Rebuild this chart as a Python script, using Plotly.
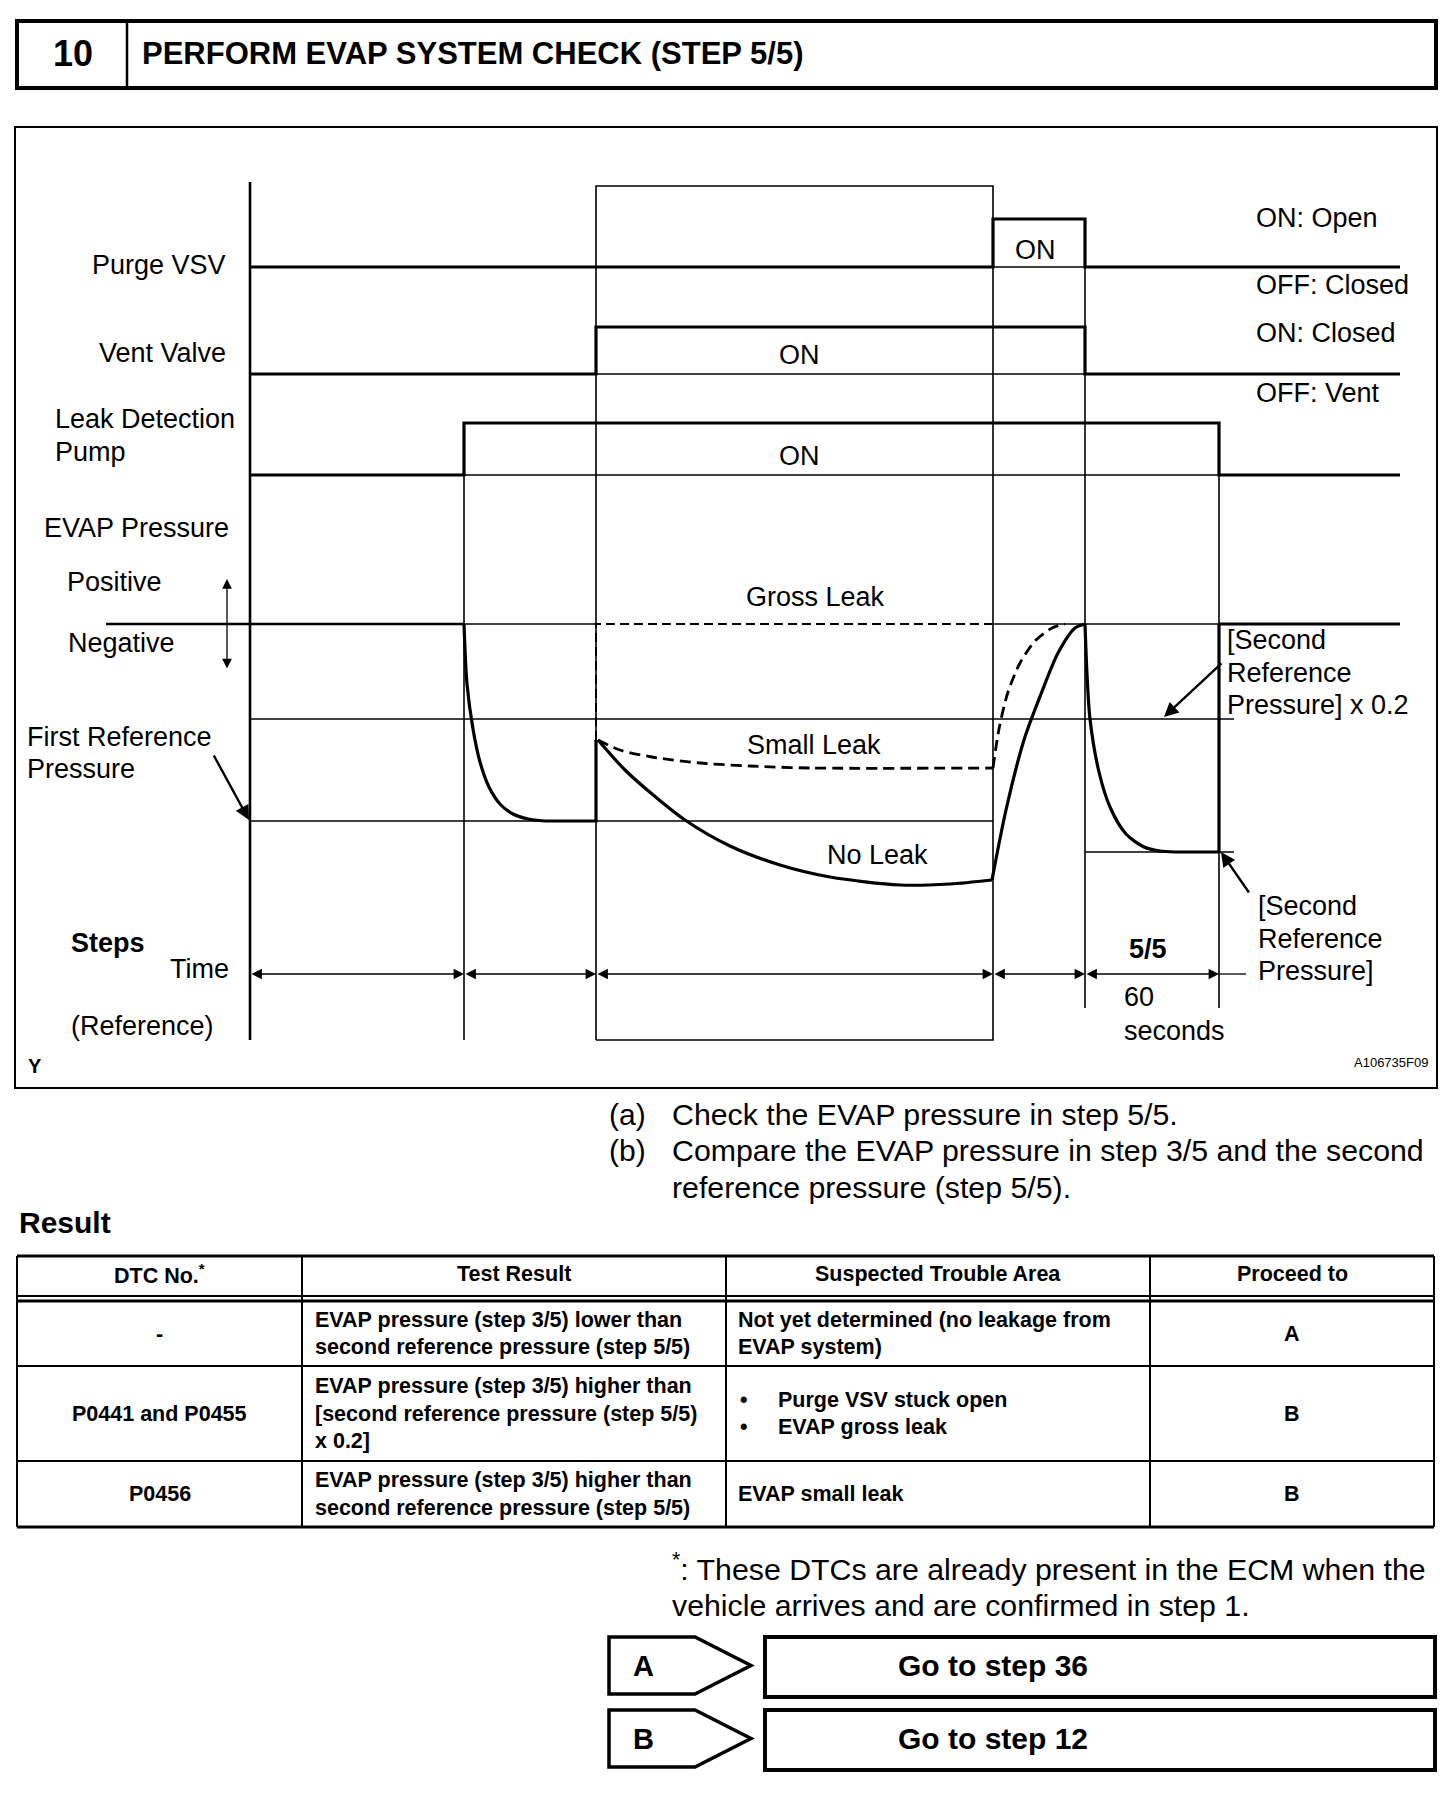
import plotly.graph_objects as go

W, H = 1456, 1814
FONT = "Liberation Sans, Arial, Helvetica, sans-serif"
INK = "black"

# ---------------- data ----------------
# step boundaries on the (schematic) time axis
step_times = [0.0, 21.4, 34.6, 74.3, 83.5, 96.9]
time_end = 115.0
zero_line_start = -14.4
time_arrow_tail_end = 99.6

# ON / OFF state of each actuator in every interval between boundaries
purge_vsv_state = [0, 0, 0, 1, 0, 0]
vent_valve_state = [0, 0, 1, 1, 0, 0]
leak_pump_state = [0, 1, 1, 1, 1, 0]

# EVAP pressure levels (0 = atmospheric, negative = vacuum)
x02_ref_level = -9.5
first_ref_level = -19.7
second_ref_level = -22.8
step3_start_level = -11.6
ref_lines_end = 98.4

# step 1/5 pump-down curve
step1_t = [21.4, 21.7, 22.3, 23.0, 23.9, 25.0, 26.3, 27.8, 29.5]
step1_p = [0.0, -6.0, -10.5, -13.8, -16.3, -18.0, -19.0, -19.5, -19.7]

# step 3/5 "No Leak" curve
noleak_t = [34.8, 37.5, 40.2, 43.5, 48.0, 53.0, 58.0, 65.0, 70.0, 74.2]
noleak_p = [-11.6, -14.6, -17.0, -19.6, -22.2, -24.1, -25.3, -26.1, -26.0, -25.6]
# step 4/5 recovery of "No Leak"
noleak_rise_t = [74.2, 75.6, 77.4, 79.1, 80.8, 82.5, 83.5]
noleak_rise_p = [-25.6, -18.6, -11.6, -7.0, -2.9, -0.4, 0.0]

# step 3/5 "Small Leak" curve (dashed)
small_t = [34.8, 37.0, 40.2, 45.0, 50.0, 56.0, 74.3]
small_p = [-11.6, -12.6, -13.3, -13.9, -14.2, -14.4, -14.4]
small_rise_t = [74.3, 74.9, 75.8, 77.0, 78.5, 80.2, 81.5]
small_rise_p = [-14.4, -10.5, -6.8, -3.9, -1.7, -0.4, 0.0]

# step 5/5 second reference pump-down
step5_t = [83.5, 83.7, 84.0, 84.9, 86.0, 87.6, 89.4, 91.0, 92.5]
step5_p = [0.0, -5.0, -9.5, -14.8, -18.3, -21.0, -22.3, -22.7, -22.8]

# texts
instructions = [("(a)", "Check the EVAP pressure in step 5/5."),
                ("(b)", "Compare the EVAP pressure in step 3/5 and the second"),
                ("", "reference pressure (step 5/5).")]
table_header = ["DTC No.<sup>*</sup>", "Test Result", "Suspected Trouble Area", "Proceed to"]
dtc_col = ["-", "P0441 and P0455", "P0456"]
test_result_col = [
    ["EVAP pressure (step 3/5) lower than", "second reference pressure (step 5/5)"],
    ["EVAP pressure (step 3/5) higher than", "[second reference pressure (step 5/5)", "x 0.2]"],
    ["EVAP pressure (step 3/5) higher than", "second reference pressure (step 5/5)"],
]
trouble_col = [
    ["Not yet determined (no leakage from", "EVAP system)"],
    ["Purge VSV stuck open", "EVAP gross leak"],
    ["EVAP small leak"],
]
trouble_bullets = [False, True, False]
proceed_col = ["A", "B", "B"]
footnote = ["<sup>*</sup>: These DTCs are already present in the ECM when the",
            "vehicle arrives and are confirmed in step 1."]
results = [("A", "Go to step 36"), ("B", "Go to step 12")]

# ---------------- page geometry (pixel helpers) ----------------
PX_PER_T = 10.0
X0_PX, Y0_PX = 250.0, 624.0


def X(px):
    return (px - X0_PX) / PX_PER_T


def Y(py):
    return (Y0_PX - py) / PX_PER_T


THICK, THIN = 3.2, 1.6

fig = go.Figure()


def line(xs, ys, width=THIN, dash=None, shape="linear", smoothing=1.0):
    ln = dict(color=INK, width=width, shape=shape)
    if dash:
        ln["dash"] = dash
    if shape == "spline":
        ln["smoothing"] = smoothing
    fig.add_trace(go.Scatter(x=xs, y=ys, mode="lines", line=ln,
                             hoverinfo="skip", showlegend=False))


# ---- actuator rows ----
rows = [
    (purge_vsv_state, Y(267), Y(219) - Y(267)),
    (vent_valve_state, Y(374), Y(327) - Y(374)),
    (leak_pump_state, Y(475), Y(423) - Y(475)),
]
xs_sig = step_times + [time_end]
for states, base, h in rows:
    ys = [base + h * s for s in states] + [base + h * states[-1]]
    # thin baseline where signal is ON
    for i, s in enumerate(states):
        if s == 1:
            line([xs_sig[i], xs_sig[i + 1]], [base, base], THIN)
    line(xs_sig, ys, THICK, shape="hv")

purge_high = Y(219)
pump_high = Y(423)
box_top = Y(186)
bottom_long = Y(1040)
bottom_short = Y(1008)

# vertical structure lines
line([step_times[0], step_times[0]], [Y(182), bottom_long], 2.6)
line([step_times[1], step_times[1]], [pump_high, bottom_long], THIN)
line([step_times[2], step_times[2], step_times[3], step_times[3], step_times[2]],
     [bottom_long, box_top, box_top, bottom_long, bottom_long], THIN)
line([step_times[4], step_times[4]], [purge_high, bottom_short], THIN)
line([step_times[5], step_times[5]], [pump_high, bottom_short], THIN)

# pressure reference lines
line([step_times[0], ref_lines_end], [x02_ref_level, x02_ref_level], THIN)
line([step_times[0], step_times[3]], [first_ref_level, first_ref_level], THIN)
line([step_times[4], ref_lines_end], [second_ref_level, second_ref_level], THIN)

# zero (atmospheric) line
line([zero_line_start, step_times[1]], [0, 0], 2.6)
line([step_times[1], step_times[2]], [0, 0], THIN)
line([step_times[3], step_times[5]], [0, 0], THIN)
line([step_times[5], time_end], [0, 0], THICK)

# step 1 pump-down
line(step1_t, step1_p, THICK, shape="spline", smoothing=0.8)
line([step1_t[-1], step_times[2], step_times[2]],
     [first_ref_level, first_ref_level, step3_start_level], THICK)
# gross leak
line([step_times[2], step_times[2], step_times[3]], [step3_start_level, 0, 0],
     THIN + 0.4, dash="9px,5px")
# small leak
line(small_t, small_p, 2.8, dash="11px,6px", shape="spline", smoothing=0.8)
line(small_rise_t, small_rise_p, 2.8, dash="11px,6px", shape="spline", smoothing=0.8)
# no leak
line(noleak_t, noleak_p, THICK, shape="spline", smoothing=0.8)
line(noleak_rise_t, noleak_rise_p, THICK, shape="spline", smoothing=0.8)
# step 5
line(step5_t, step5_p, THICK, shape="spline", smoothing=0.8)
line([step5_t[-1], step_times[5], step_times[5]],
     [second_ref_level, second_ref_level, 0], THICK)

# time arrows
arrow_y = Y(974)
line([step_times[5], time_arrow_tail_end], [arrow_y, arrow_y], 1.3)
annotations = []
for i in range(len(step_times) - 1):
    annotations.append(dict(x=step_times[i + 1], y=arrow_y, ax=step_times[i], ay=arrow_y,
                            xref="x", yref="y", axref="x", ayref="y", text="",
                            showarrow=True, arrowside="end+start", arrowhead=2,
                            arrowsize=1.6, arrowwidth=1.3, arrowcolor=INK, standoff=0,
                            startstandoff=0))


def txt(s, px, py, size=27, anchor="left", bold=False):
    if bold:
        s = "<b>" + s + "</b>"
    annotations.append(dict(text=s, x=X(px), y=Y(py), xref="x", yref="y",
                            xanchor=anchor, yanchor="middle", showarrow=False,
                            font=dict(size=size, family=FONT, color=INK)))


def arrow(hx, hy, tx, ty, both=False, width=2.0, size=1.3):
    annotations.append(dict(x=X(hx), y=Y(hy), ax=X(tx), ay=Y(ty), xref="x", yref="y",
                            axref="x", ayref="y", text="", showarrow=True,
                            arrowside="end+start" if both else "end", arrowhead=2,
                            arrowsize=size, arrowwidth=width, arrowcolor=INK,
                            standoff=0, startstandoff=0))


# diagram labels
txt("Purge VSV", 228, 265, anchor="right")
txt("Vent Valve", 228, 353, anchor="right")
txt("Leak Detection", 53, 419)
txt("Pump", 53, 452)
txt("EVAP Pressure", 231, 528, anchor="right")
txt("Positive", 65, 582)
txt("Negative", 66, 643)
txt("First Reference", 25, 737)
txt("Pressure", 25, 769)
txt("Steps", 69, 943, bold=True)
txt("Time", 231, 969, anchor="right")
txt("(Reference)", 69, 1026)
txt("Y", 26, 1066, size=20, bold=True)
txt("ON", 1035, 250, anchor="center")
txt("ON", 799, 355, anchor="center")
txt("ON", 799, 456, anchor="center")
txt("ON: Open", 1254, 218)
txt("OFF: Closed", 1254, 285)
txt("ON: Closed", 1254, 333)
txt("OFF: Vent", 1254, 393)
txt("Gross Leak", 815, 597, anchor="center")
txt("Small Leak", 814, 745, anchor="center")
txt("No Leak", 877, 855, anchor="center")
txt("[Second", 1225, 640)
txt("Reference", 1225, 673)
txt("Pressure] x 0.2", 1225, 705)
txt("[Second", 1256, 906)
txt("Reference", 1256, 939)
txt("Pressure]", 1256, 971)
txt("5/5", 1148, 949, anchor="center", bold=True)
txt("60", 1122, 997)
txt("seconds", 1122, 1031)
txt("A106735F09", 1430, 1062, size=13, anchor="right")

arrow(227, 579, 227, 670, both=True, width=1.3, size=1.5)
arrow(249, 820, 213, 754, width=2.4, size=1.2)
arrow(1164, 717, 1223, 662, width=2.4, size=1.2)
arrow(1221, 852, 1250, 894, width=2.4, size=1.2)

# instructions
for i, (lab, body) in enumerate(instructions):
    py = 1114 + 36.5 * i
    if lab:
        txt(lab, 607, py, size=30)
    txt(body, 670, py, size=30.3)

txt("Result", 17, 1222, size=30, bold=True)

# ---------------- table ----------------
shapes = []


def hline(px0, px1, py, w):
    shapes.append(dict(type="line", xref="x", yref="y", x0=X(px0), x1=X(px1),
                       y0=Y(py), y1=Y(py), line=dict(color=INK, width=w)))


def vline(px, py0, py1, w):
    shapes.append(dict(type="line", xref="x", yref="y", x0=X(px), x1=X(px),
                       y0=Y(py0), y1=Y(py1), line=dict(color=INK, width=w)))


def rect(px0, py0, px1, py1, w):
    shapes.append(dict(type="rect", xref="x", yref="y", x0=X(px0), x1=X(px1),
                       y0=Y(py0), y1=Y(py1), line=dict(color=INK, width=w)))


col_x = [17, 302, 726, 1150, 1434]
row_lines = [1256, 1296, 1301, 1366, 1461, 1527]
for k, py in enumerate(row_lines):
    hline(col_x[0], col_x[-1], py, 3 if k in (0, 2, 5) else 2)
for px in col_x:
    vline(px, row_lines[0], row_lines[-1], 2)

TS = 21.5
for j, hd in enumerate(table_header):
    txt(hd, (col_x[j] + col_x[j + 1]) / 2, 1274, size=TS, anchor="center", bold=True)

body_rows = [(row_lines[2], row_lines[3]), (row_lines[3], row_lines[4]), (row_lines[4], row_lines[5])]
LS = 27.5
for r, (top, bot) in enumerate(body_rows):
    cy = (top + bot) / 2
    txt(dtc_col[r], (col_x[0] + col_x[1]) / 2, cy, size=TS, anchor="center", bold=True)
    lines_ = test_result_col[r]
    for i, s in enumerate(lines_):
        txt(s, col_x[1] + 11, cy + (i - (len(lines_) - 1) / 2) * LS, size=TS, bold=True)
    lines_ = trouble_col[r]
    for i, s in enumerate(lines_):
        yy = cy + (i - (len(lines_) - 1) / 2) * LS
        if trouble_bullets[r]:
            txt("•", col_x[2] + 12, yy, size=TS, bold=True)
            txt(s, col_x[2] + 50, yy, size=TS, bold=True)
        else:
            txt(s, col_x[2] + 10, yy, size=TS, bold=True)
    txt(proceed_col[r], (col_x[3] + col_x[4]) / 2, cy, size=TS, anchor="center", bold=True)

for i, s in enumerate(footnote):
    txt(s, 670, 1567 + 38 * i, size=30.3)

# result boxes
for i, (code, action) in enumerate(results):
    top = 1637 + 73 * i
    bot = top + 57
    mid = (top + bot) / 2
    shapes.append(dict(type="path", xref="x", yref="y",
                       path="M {0},{1} L {2},{1} L {3},{4} L {2},{5} L {0},{5} Z".format(
                           X(609), Y(top), X(695), X(751), Y(mid), Y(bot)),
                       line=dict(color=INK, width=3.5)))
    rect(765, top, 1435, bot + 3, 4)
    txt(code, 643, mid, size=29, anchor="center", bold=True)
    txt(action, 896, mid, size=30, bold=True)

# header box and diagram frame
rect(17, 21, 1436, 88, 4)
vline(127, 21, 88, 2.5)
txt("10", 73, 53, size=36, anchor="center", bold=True)
txt("PERFORM EVAP SYSTEM CHECK (STEP 5/5)", 140, 53, size=31, bold=True)
rect(15, 127, 1437, 1088, 2)

fig.update_layout(
    width=W, height=H, margin=dict(l=0, r=0, t=0, b=0),
    paper_bgcolor="white", plot_bgcolor="white",
    xaxis=dict(range=[X(0), X(W)], visible=False, fixedrange=True),
    yaxis=dict(range=[Y(H), Y(0)], visible=False, fixedrange=True),
    annotations=annotations, shapes=shapes, showlegend=False,
    font=dict(family=FONT, color=INK),
)

fig.write_html("out.html", config={"displayModeBar": False, "staticPlot": True},
               post_script="document.body.style.margin='0';document.body.style.overflow='hidden';")
